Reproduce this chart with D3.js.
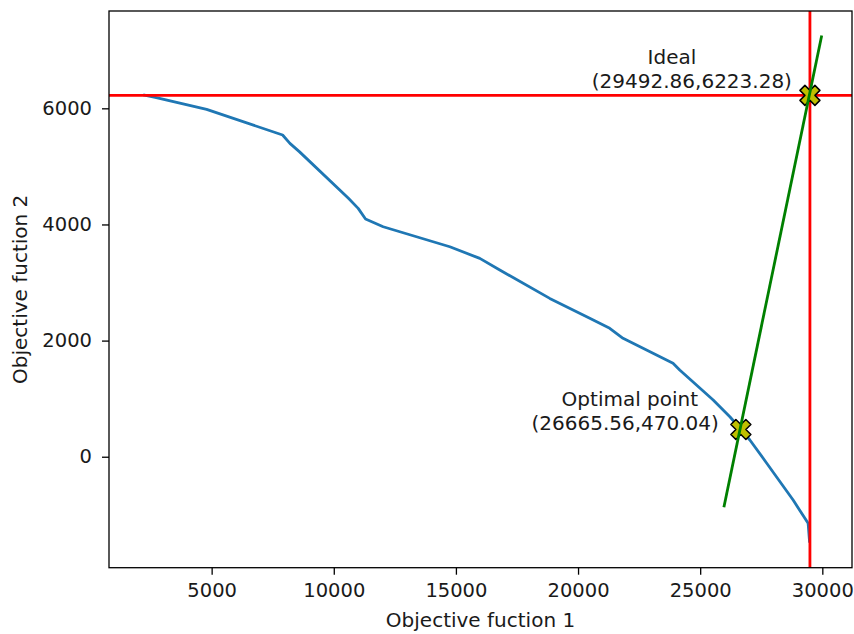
<!DOCTYPE html>
<html>
<head>
<meta charset="utf-8">
<script src="https://cdn.jsdelivr.net/npm/d3@7"></script>
<style>
    html, body { margin: 0; padding: 0; background: #fff; }
    #chart { width: 854px; height: 634px; }
    text { font-family: "DejaVu Sans", sans-serif; fill: #1a1a1a; }
</style>
</head>
<body>
<div id="chart"></div>
<script>
/*  pareto front (objective 1 vs objective 2)  */
const frontX = [2200, 2690, 4795, 7905, 8204, 8600, 10600, 10999, 11300, 12022, 14750, 15978,
                16796, 18842, 20478, 21297, 21841, 23888, 24162, 25532, 26215, 26665.56, 27034,
                27717, 28805, 29419, 29480];
const frontY = [6230, 6189, 5982, 5540, 5397, 5250, 4450, 4277, 4093, 3961, 3616, 3416,
                3215, 2727, 2383, 2211, 2039, 1608, 1493, 976, 689, 470.04, 288,
                -108, -746, -1147, -1480];

/*  trade-off line end points  */
const tradeX = [25970, 29975];
const tradeY = [-870, 7255];

/*  highlighted points  */
const pointNames = ["Optimal point", "Ideal"];
const pointX = [26665.56, 29492.86];
const pointY = [470.04, 6223.28];

const xTicks = [5000, 10000, 15000, 20000, 25000, 30000];
const yTicks = [0, 2000, 4000, 6000];
const xDomain = [798, 31215];
const yDomain = [-1911, 7676];

function ParetoChart() {

    let self = this;

    self.initialize = function(conf) {
        self.el = document.getElementById(conf.el);
        self.margin = {top: 11, right: 2, bottom: 66.3, left: 109};
        self.graphWidth = 854;
        self.graphHeight = 634;
        self.width = self.graphWidth - self.margin.left - self.margin.right;
        self.height = self.graphHeight - self.margin.top - self.margin.bottom;

        /*  where the two lines of each label sit, relative to its marker  */
        self.labelOffsets = [
            {l1dx: -111, l1dy: -23, l2dx: -22, l2dy: 1},
            {l1dx: -138, l1dy: -31, l2dx: -18, l2dy: -7}
        ];

        self.xScale = d3.scaleLinear().domain(xDomain).range([0, self.width]);
        self.yScale = d3.scaleLinear().domain(yDomain).range([self.height, 0]);
        self.render();
    }

    self.render = function() {
        self.svg = d3.select(self.el).append("svg")
                        .attr("width", self.graphWidth)
                        .attr("height", self.graphHeight)
                        .append("g")
                        .attr("transform", "translate(" + self.margin.left + "," + self.margin.top + ")");

        self.svg.append("defs").append("clipPath").attr("id", "plotClip")
                .append("rect").attr("width", self.width).attr("height", self.height);

        self.plot = self.svg.append("g").attr("clip-path", "url(#plotClip)");

        self.renderFront();
        self.renderIdealLines();
        self.renderMarkers();
        self.renderTradeLine();
        self.renderAxes();
        self.renderLabels();
    }

    self.renderFront = function() {
        let pts = frontX.map((x, i) => [x, frontY[i]]);
        self.plot.append("path")
                .datum(pts)
                .attr("fill", "none")
                .attr("stroke", "#1f77b4")
                .attr("stroke-width", 2.8)
                .attr("stroke-linejoin", "round")
                .attr("d", d3.line().x(d => self.xScale(d[0])).y(d => self.yScale(d[1])));
    }

    self.renderIdealLines = function() {
        let ix = self.xScale(pointX[1]), iy = self.yScale(pointY[1]);
        self.plot.append("line")
                .attr("x1", 0).attr("x2", self.width)
                .attr("y1", iy).attr("y2", iy)
                .attr("stroke", "#ff0000").attr("stroke-width", 2.8);
        self.plot.append("line")
                .attr("x1", ix).attr("x2", ix)
                .attr("y1", 0).attr("y2", self.height)
                .attr("stroke", "#ff0000").attr("stroke-width", 2.8);
    }

    self.renderMarkers = function() {
        /*  matplotlib style filled "X"  */
        let s = 20;
        let verts = [[-0.25, -0.5], [0, -0.25], [0.25, -0.5], [0.5, -0.25],
                     [0.25, 0], [0.5, 0.25], [0.25, 0.5], [0, 0.25],
                     [-0.25, 0.5], [-0.5, 0.25], [-0.25, 0], [-0.5, -0.25]];
        let d = d3.line()(verts.map(v => [v[0] * s, v[1] * s])) + "Z";

        self.plot.selectAll(".pt")
                .data(pointX)
                .enter().append("path")
                .attr("class", "pt")
                .attr("d", d)
                .attr("transform", (x, i) => "translate(" + self.xScale(x) + "," + self.yScale(pointY[i]) + ")")
                .attr("fill", "#bfbf00")
                .attr("stroke", "#000")
                .attr("stroke-width", 1.5)
                .attr("stroke-linejoin", "round");
    }

    self.renderTradeLine = function() {
        self.plot.append("line")
                .attr("x1", self.xScale(tradeX[0])).attr("y1", self.yScale(tradeY[0]))
                .attr("x2", self.xScale(tradeX[1])).attr("y2", self.yScale(tradeY[1]))
                .attr("stroke", "#008000").attr("stroke-width", 2.8)
                .attr("stroke-linecap", "butt");
    }

    self.renderAxes = function() {
        let xAxis = self.svg.append("g")
                        .attr("transform", "translate(0," + self.height + ")")
                        .call(d3.axisBottom(self.xScale).tickValues(xTicks)
                              .tickFormat(d3.format("d")).tickSize(7).tickPadding(8.5));
        let yAxis = self.svg.append("g")
                        .call(d3.axisLeft(self.yScale).tickValues(yTicks)
                              .tickFormat(d3.format("d")).tickSize(7).tickPadding(10));

        [xAxis, yAxis].forEach(function(ax) {
            ax.select(".domain").remove();
            ax.selectAll(".tick line").attr("stroke", "#000").attr("stroke-width", 1.3);
            ax.selectAll("text").attr("font-size", "19.5px").attr("font-family", "DejaVu Sans").attr("fill", "#1a1a1a");
        });

        self.svg.append("rect")
                .attr("width", self.width).attr("height", self.height)
                .attr("fill", "none").attr("stroke", "#000").attr("stroke-width", 1.3);

        self.svg.append("text")
                .attr("x", self.width / 2).attr("y", self.height + 59.3)
                .attr("text-anchor", "middle").attr("font-size", "20px")
                .text("Objective fuction 1");

        self.svg.append("text")
                .attr("transform", "translate(" + (27 - self.margin.left) + "," + (self.height / 2) + ") rotate(-90)")
                .attr("text-anchor", "middle").attr("font-size", "20px")
                .text("Objective fuction 2");
    }

    self.renderLabels = function() {
        pointNames.forEach(function(name, i) {
            let px = self.xScale(pointX[i]), py = self.yScale(pointY[i]);
            let off = self.labelOffsets[i];
            self.svg.append("text")
                    .attr("x", px + off.l1dx).attr("y", py + off.l1dy)
                    .attr("text-anchor", "middle").attr("font-size", "20px")
                    .text(name);
            self.svg.append("text")
                    .attr("x", px + off.l2dx).attr("y", py + off.l2dy)
                    .attr("text-anchor", "end").attr("font-size", "20px")
                    .text("(" + pointX[i].toFixed(2) + "," + pointY[i].toFixed(2) + ")");
        });
    }
}

let chart = new ParetoChart();
chart.initialize({el: "chart"});
</script>
</body>
</html>
